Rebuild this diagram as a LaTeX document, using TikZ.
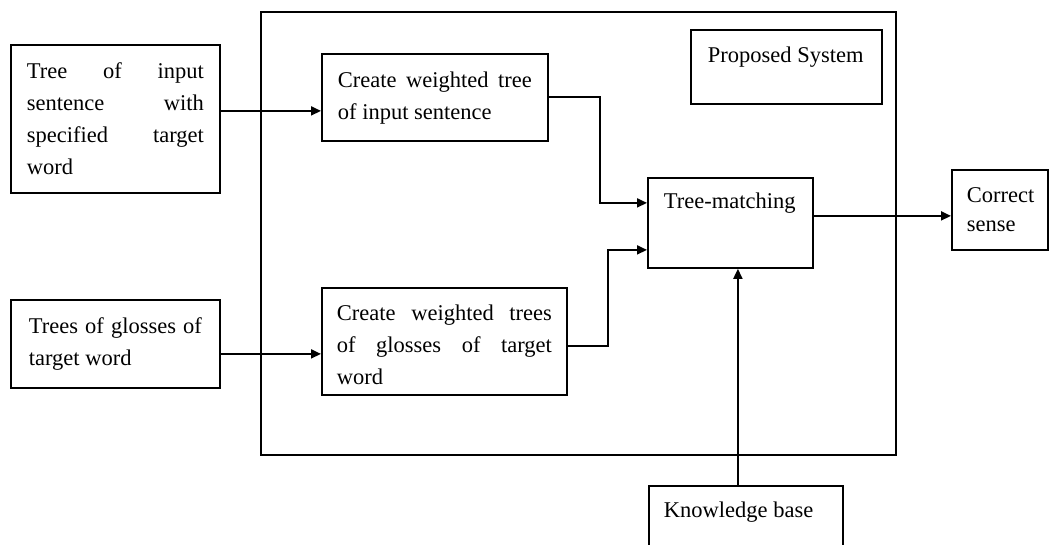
\documentclass[tikz,border=0pt]{standalone}
\usepackage{fontspec}
\setmainfont{Liberation Serif}
\usetikzlibrary{arrows.meta}
\newcommand\bxt[4]{\parbox[c][#2][t]{#1}{\rule{0pt}{#3}#4}}
\newcommand\jl[1]{\makebox[\linewidth][s]{#1}}
\begin{document}
\begin{tikzpicture}[x=1pt,y=-1pt,
  box/.style={draw,line width=1.8pt,inner ysep=0pt,anchor=north west,
    font=\fontsize{22.5}{32}\selectfont},
  conn/.style={line width=1.8pt},
  arr/.style={conn,-{Triangle[length=10pt,width=9pt]}}]
\useasboundingbox (0,0) rectangle (1051,545);
\fill[white] (0,0) rectangle (1051,545);

\node[draw,line width=1.8pt,inner sep=0pt,anchor=north west,
  minimum width=635pt,minimum height=443pt] (sys) at (260,11) {};

\node[box,inner xsep=16pt] (A) at (10,44)
  {\bxt{177pt}{148pt}{34pt}{\jl{Tree of input}\\ \jl{sentence with}\\ \jl{specified target}\\ word}};
\node[box,inner xsep=16pt] (B) at (321,53)
  {\bxt{194pt}{87pt}{34pt}{\jl{Create weighted tree}\\ of input sentence}};
\node[box,inner xsep=15pt] (C) at (321,287)
  {\bxt{215pt}{107pt}{33pt}{\jl{Create weighted trees}\\ \jl{of glosses of target}\\ word}};
\node[box,inner xsep=18pt] (D) at (10,299)
  {\bxt{173pt}{88pt}{34pt}{\jl{Trees of glosses of}\\ target word}};
\node[box,inner xsep=16pt] (E) at (647,177)
  {\bxt{133pt}{90pt}{31pt}{Tree-matching}};
\node[box,inner xsep=15pt] (F) at (951,169)
  {\bxt{66pt}{80pt}{33pt}{Correct\\[-3pt] sense}};
\node[box,inner xsep=17pt] (G) at (690,29)
  {\bxt{157pt}{74pt}{33pt}{Proposed System}};
\node[box,inner xsep=15pt] (H) at (648,485)
  {\bxt{164pt}{90pt}{32pt}{Knowledge base}};

\coordinate (Bin) at ([yshift=-13.5pt]B.west);
\draw[arr] (A.east |- Bin) -- (Bin);
\draw[arr] (B.east) -- ++(51,0) |- ([yshift=20pt]E.west);
\draw[arr] ([yshift=-4.5pt]C.east) -- ++(40,0) |- ([yshift=-27pt]E.west);
\coordinate (Dout) at ([yshift=-10pt]D.east);
\draw[arr] (Dout) -- (Dout -| C.west);
\coordinate (Eout) at ([yshift=7pt]E.east);
\draw[arr] (Eout) -- (Eout -| F.west);
\coordinate (Hout) at ([xshift=-8pt]H.north);
\draw[arr] (Hout) -- (Hout |- E.south);
\end{tikzpicture}
\end{document}
